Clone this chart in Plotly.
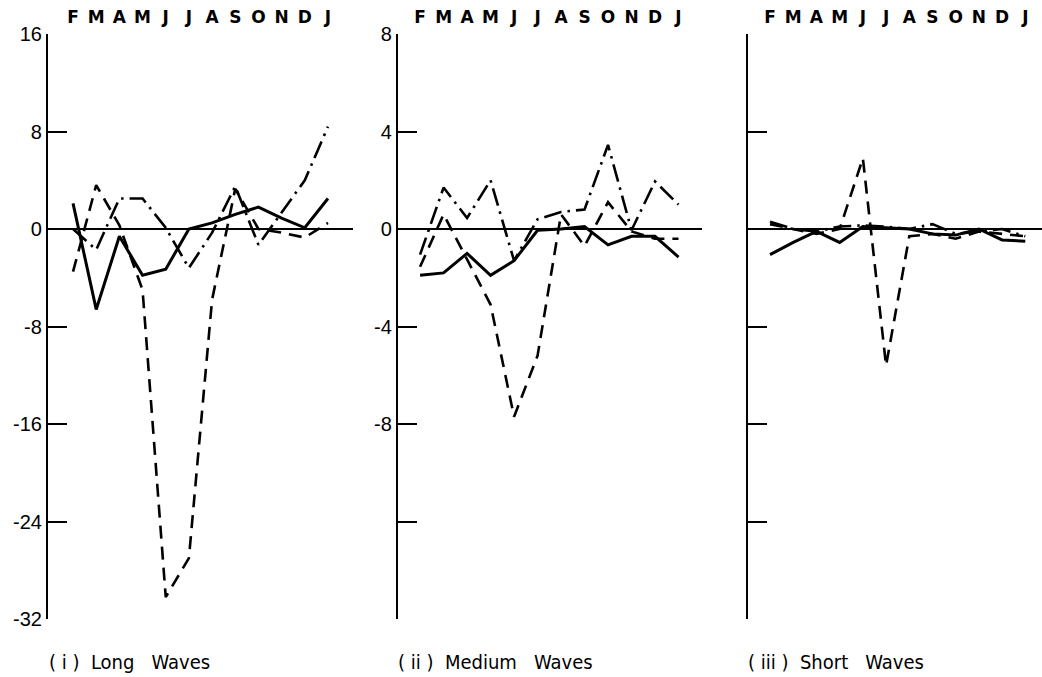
import plotly.graph_objects as go

# Month tick labels (February to the following January)
months = ["F", "M", "A", "M", "J", "J", "A", "S", "O", "N", "D", "J"]

# (i) Long waves
long_solid = [2.1, -6.6, -0.6, -3.8, -3.3, 0.0, 0.5, 1.2, 1.8, 0.9, 0.1, 2.5]
long_dashed = [-3.5, 3.6, 0.3, -5.0, -30.2, -27.0, -5.8, 3.3, 0.0, -0.3, -0.7, 0.5]
long_dashdot = [0.0, -1.7, 2.5, 2.5, 0.1, -3.2, -0.3, 3.5, -1.3, 1.3, 4.0, 8.4]

# (ii) Medium waves
med_solid = [-1.9, -1.8, -1.0, -1.9, -1.3, -0.05, 0.0, 0.1, -0.65, -0.3, -0.3, -1.15]
med_dashed = [-1.55, 0.6, -1.25, -3.1, -7.7, -5.2, 0.6, -0.7, 1.1, -0.1, -0.4, -0.4]
med_dashdot = [-1.05, 1.7, 0.45, 2.0, -1.3, 0.4, 0.7, 0.8, 3.45, -0.05, 1.95, 1.0]

# (iii) Short waves
short_solid = [-1.05, -0.55, -0.1, -0.55, 0.1, 0.05, 0.0, -0.2, -0.25, 0.0, -0.45, -0.5]
short_dashed = [0.2, 0.0, -0.2, 0.0, 2.9, -5.6, -0.3, -0.2, -0.4, -0.1, -0.2, -0.3]
short_dashdot = [0.3, 0.0, -0.1, 0.1, 0.15, 0.1, 0.0, 0.2, -0.2, -0.1, 0.0, -0.3]

# y tick values / labels per panel
long_ticks = [16, 8, 0, -8, -16, -24, -32]
long_ticktext = ["16", "8", "0", "-8", "-16", "-24", "-32"]
med_ticks = [8, 4, 0, -4, -8, -12, -16]
med_ticktext = ["8", "4", "0", "-4", "-8", "", ""]
short_ticks = [8, 4, 0, -4, -8, -12, -16]
short_ticktext = ["", "", "", "", "", "", ""]

captions = ["( i )  Long   Waves", "( ii )  Medium   Waves", "( iii )  Short   Waves"]

W, H = 1042, 677
FONT = "Liberation Sans"
x_idx = list(range(len(months)))

panels = [
    dict(series=(long_solid, long_dashed, long_dashdot), yr=[-32, 16],
         ticks=long_ticks, ticktext=long_ticktext,
         px=(48, 353), xr=[-1.08, 12.08], cap_x=47),
    dict(series=(med_solid, med_dashed, med_dashdot), yr=[-16, 8],
         ticks=med_ticks, ticktext=med_ticktext,
         px=(398, 702), xr=[-0.94, 12.0], cap_x=396),
    dict(series=(short_solid, short_dashed, short_dashdot), yr=[-16, 8],
         ticks=short_ticks, ticktext=short_ticktext,
         px=(748, 1042), xr=[-0.95, 11.72], cap_x=746),
]

styles = [
    dict(color="black", width=3.0, dash="solid"),
    dict(color="black", width=2.6, dash="13px,8px"),
    dict(color="black", width=2.6, dash="18px,6px,2.5px,6px"),
]

y_top, y_bot = 34, 619
ydom = [1 - y_bot / H, 1 - y_top / H]

fig = go.Figure()
layout = dict(
    width=W, height=H,
    margin=dict(l=0, r=0, t=0, b=0, autoexpand=False),
    paper_bgcolor="white", plot_bgcolor="white",
    showlegend=False,
    font=dict(family=FONT, color="black"),
    annotations=[],
)

for i, p in enumerate(panels):
    n = "" if i == 0 else str(i + 1)
    xa, ya = "x" + n, "y" + n
    for ys, st in zip(p["series"], styles):
        fig.add_trace(go.Scatter(
            x=x_idx, y=ys, mode="lines", line=st,
            xaxis=xa, yaxis=ya, hoverinfo="skip", cliponaxis=False,
        ))
    layout["xaxis" + n] = dict(
        domain=[p["px"][0] / W, p["px"][1] / W], range=p["xr"],
        anchor=ya, side="top", automargin=False,
        tickmode="array", tickvals=x_idx, ticktext=months,
        tickfont=dict(size=17, family="DejaVu Sans", color="black",
                      weight=600),
        ticklabelstandoff=7,
        ticks="", showgrid=False, zeroline=False, showline=False,
        fixedrange=True,
    )
    layout["yaxis" + n] = dict(
        domain=ydom, range=p["yr"], anchor=xa, automargin=False,
        tickmode="array", tickvals=p["ticks"], ticktext=p["ticktext"],
        tickfont=dict(size=20, family=FONT, color="black"),
        ticks="inside", ticklen=19, tickwidth=1.8, tickcolor="black",
        showline=True, linecolor="black", linewidth=2.2,
        showgrid=False, zeroline=True, zerolinecolor="black",
        zerolinewidth=1.8, fixedrange=True,
    )
    layout["annotations"].append(dict(
        text=captions[i], xref="paper", yref="paper",
        x=p["cap_x"] / W, y=1 - 662 / H, xanchor="left", yanchor="middle",
        showarrow=False,
        font=dict(size=20, family="DejaVu Sans Condensed", color="black"),
    ))

fig.update_layout(**layout)
fig.write_html("out.html")
